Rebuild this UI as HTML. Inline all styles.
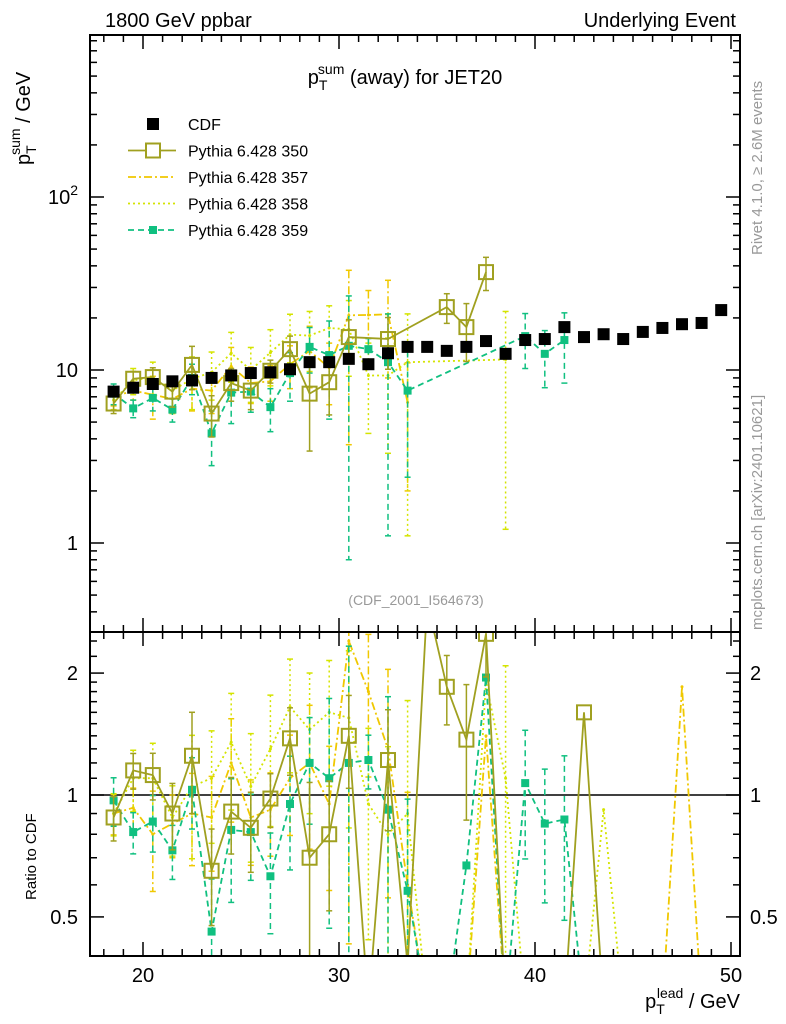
<!DOCTYPE html>
<html><head><meta charset="utf-8"><style>
html,body{margin:0;padding:0;background:#fff;font-family:"Liberation Sans",sans-serif;overflow:hidden;width:786px;height:1024px}
svg{display:block}
svg text{font-family:"Liberation Sans",sans-serif}
</style></head><body>
<svg id="c" width="786" height="1024" xmlns="http://www.w3.org/2000/svg">
<defs>
<clipPath id="cm"><rect x="90" y="35" width="650" height="597"/></clipPath>
<clipPath id="cr"><rect x="90" y="632" width="650" height="324"/></clipPath>
</defs>
<text x="105" y="27" font-size="20">1800 GeV ppbar</text>
<text x="736" y="27" font-size="20" text-anchor="end">Underlying Event</text>
<text x="405" y="84" font-size="20" text-anchor="middle">p<tspan font-size="14" dy="6">T</tspan><tspan font-size="14" dx="-8" dy="-16">sum</tspan><tspan dy="10"> (away) for JET20</tspan></text>
<text x="416" y="605" font-size="14" fill="#999" text-anchor="middle">(CDF_2001_I564673)</text>
<text transform="translate(762,255) rotate(-90)" font-size="15" fill="#999">Rivet 4.1.0, ≥ 2.6M events</text>
<text transform="translate(762,630) rotate(-90)" font-size="15" fill="#999">mcplots.cern.ch [arXiv:2401.10621]</text>
<text transform="translate(30,165) rotate(-90)" font-size="20">p<tspan font-size="14" dy="6">T</tspan><tspan font-size="14" dx="-8" dy="-16">sum</tspan><tspan dy="10"> / GeV</tspan></text>
<text transform="translate(36,900) rotate(-90)" font-size="15">Ratio to CDF</text>
<text x="740" y="1008" font-size="20" text-anchor="end">p<tspan font-size="14" dy="6">T</tspan><tspan font-size="14" dx="-8" dy="-16">lead</tspan><tspan dy="10"> / GeV</tspan></text>
<g id="axes"></g>
<g id="mainMarks" clip-path="url(#cm)"></g>
<g id="ratioMarks" clip-path="url(#cr)"></g>
<g id="legend"></g>
<rect x="90" y="35" width="650" height="597" fill="none" stroke="#000" stroke-width="2"/>
<rect x="90" y="632" width="650" height="324" fill="none" stroke="#000" stroke-width="2"/>
</svg>
<script>
const xBins=[18.5,19.5,20.5,21.5,22.5,23.5,24.5,25.5,26.5,27.5,28.5,29.5,30.5,31.5,32.5,33.5,34.5,35.5,36.5,37.5,38.5,39.5,40.5,41.5,42.5,43.5,44.5,45.5,46.5,47.5,48.5,49.5];
const cdfVals=[7.5,7.9,8.3,8.6,8.7,9.0,9.3,9.6,9.7,10.1,11.1,11.1,11.6,10.8,12.5,13.6,13.6,12.9,13.6,14.7,12.4,14.9,15.1,17.7,15.5,16.1,15.1,16.6,17.5,18.4,18.7,22.2];
const p350Vals=[6.4,8.9,9.1,7.5,10.7,5.6,8.4,7.6,9.9,13.2,7.3,8.5,15.5,null,15.1,null,null,23.1,17.7,36.8,null,null,null,null,null,null,null,null,null,null,null,null];
const p350Err=[0.8,0.9,1.2,1.4,3,1.5,1.8,1.7,1.5,2.5,3.9,3,4,null,5,null,null,4.5,6.5,8,null,null,null,null,null,null,null,null,null,null,null,null];
const p357Vals=[7.0,7.6,7.2,6.8,7.8,7.6,10.5,8.4,8.6,10.8,12.9,10.3,20.7,20.8,21,6.5,null,null,null,null,null,null,null,null,null,null,null,null,null,null,null,null];
const p357Err=[0.8,0.9,2,1.2,2,2,3,2,2,3,5,4,17,8,12,4.5,null,null,null,null,null,null,null,null,null,null,null,null,null,null,null,null];
const p358Vals=[6.7,8.7,9.1,7.6,8.9,9.7,12.5,10,12.6,16,15.8,17.5,17.2,9.3,9.3,11.1,null,null,null,null,11.5,null,null,null,null,null,null,null,null,null,null,null];
const p358Err=[0.8,1.5,2,1.5,3,3,4,3.5,4.5,5,6,6,8,5,6,10,null,null,null,null,10.3,null,null,null,null,null,null,null,null,null,null,null];
const p359Vals=[7.3,6.0,6.9,5.9,9.0,4.3,7.4,7.5,6.1,9.6,13.6,12.2,13.8,13.2,11.1,7.6,null,null,null,null,null,15.7,12.4,14.9,null,null,null,null,null,null,null,null];
const p359Err=[1,0.7,1.1,0.9,1.8,1.5,2.5,1.8,1.7,3,4,7,13,2,10,5.2,null,null,null,null,null,5.5,4.5,6.5,null,null,null,null,null,null,null,null];
const r350=[0.88,1.15,1.12,0.9,1.25,0.65,0.91,0.83,0.98,1.38,0.7,0.8,1.4,0.3,1.22,0.38,3,1.85,1.37,2.5,0.3,null,null,0.3,1.6,0.3,null,null,null,null,null,null];
const r357=[0.9,0.93,0.8,0.85,0.9,0.88,1.2,0.88,0.92,1.1,1.2,0.95,2.4,1.8,1.3,0.6,0.3,null,0.3,1.4,0.3,null,null,null,null,null,null,null,0.3,1.85,0.3,null];
const r358=[0.9,1.1,1.1,0.88,1.05,1.1,1.35,1.05,1.3,1.65,1.45,1.6,1.55,0.95,0.8,0.9,0.3,null,0.3,1.9,1.1,0.3,null,null,0.3,0.92,0.3,null,null,null,null,null];
const r359=[0.97,0.81,0.86,0.73,1.03,0.46,0.82,0.81,0.63,0.95,1.2,1.1,1.2,1.22,0.92,0.58,0.3,0.3,0.67,1.95,0.3,1.07,0.85,0.87,0.3,null,null,null,null,null,null,null];
const xTicks=[20,30,40,50];
const mainTicks=[1,10,100];
const ratioTicks=[0.5,1,2];

const NS='http://www.w3.org/2000/svg';
const X=v=>143+(v-20)*19.6;
const YM=v=>370-173*Math.log10(v/10);
const YR=v=>795-405*Math.log10(v);
function el(t,a,p){const e=document.createElementNS(NS,t);for(const k in a)e.setAttribute(k,a[k]);p.appendChild(e);return e;}
const ax=document.getElementById('axes');
for(let v=18;v<=50;v++){const big=v%10===0;
 for(const [yb,dir] of [[632,-1],[956,-1],[35,1],[632,1]]){
  el('line',{x1:X(v),x2:X(v),y1:yb,y2:yb+dir*(big?14:7),stroke:'#000','stroke-width':1.5},ax);
 }}
xTicks.forEach(v=>{const t=el('text',{x:X(v),y:982,'font-size':20,'text-anchor':'middle'},ax);t.textContent=v;

});
for(let d=0.1;d<=1000;d*=10){for(let m=1;m<10;m++){const v=d*m;const y=YM(v);if(y<35||y>632)continue;
 const len=m===1?14:7;
 el('line',{x1:90,x2:90+len,y1:y,y2:y,stroke:'#000','stroke-width':1.5},ax);
 el('line',{x1:740,x2:740-len,y1:y,y2:y,stroke:'#000','stroke-width':1.5},ax);}}
mainTicks.forEach(v=>{const t=el('text',{x:78,y:YM(v)+7,'font-size':20,'text-anchor':'end'},ax);
 if(v===100){t.innerHTML='10<tspan font-size="14" dy="-9">2</tspan>';}else t.textContent=v;
 
 });
[0.4,0.5,0.6,0.7,0.8,0.9,1,1.1,1.2,1.3,1.4,1.5,1.6,1.7,1.8,1.9,2,2.2,2.4].forEach(v=>{const y=YR(v);const len=ratioTicks.includes(v)?14:7;
 el('line',{x1:90,x2:90+len,y1:y,y2:y,stroke:'#000','stroke-width':1.5},ax);
 el('line',{x1:740,x2:740-len,y1:y,y2:y,stroke:'#000','stroke-width':1.5},ax);});
ratioTicks.forEach(v=>{for(const [x,a] of [[78,'end'],[750,'start']]){const t=el('text',{x:x,y:YR(v)+7,'font-size':20,'text-anchor':a},ax);t.textContent=v;
 
 }});
el('line',{x1:90,x2:740,y1:YR(1),y2:YR(1),stroke:'#000','stroke-width':1.5},ax);

const mm=document.getElementById('mainMarks'), rm=document.getElementById('ratioMarks');
const series=[
 {name:'p357',col:'#f0c800',dash:'8,3,2,3',vals:p357Vals,err:p357Err,r:r357,mk:'dot'},
 {name:'p358',col:'#d4e400',dash:'2,3',vals:p358Vals,err:p358Err,r:r358,mk:'dot'},
 {name:'p359',col:'#10c080',dash:'6,4',vals:p359Vals,err:p359Err,r:r359,mk:'fill'},
 {name:'p350',col:'#a0a020',dash:'',vals:p350Vals,err:p350Err,r:r350,mk:'open'}];
function drawSeries(s,vals,err,Y,g,tag,yMin,yMax){
 const cl=y=>Math.max(yMin,Math.min(yMax,y));
 let pts=[];
 vals.forEach((v,i)=>{if(v!==null)pts.push(X(xBins[i]).toFixed(1)+','+Y(v).toFixed(1));});
 const pl=el('polyline',{points:pts.join(' '),fill:'none',stroke:s.col,'stroke-width':1.8,'stroke-dasharray':s.dash},g);
 
 
 vals.forEach((v,i)=>{if(v===null)return;const x=X(xBins[i]);const y=Y(v);
  if(err&&err[i]){const e=err[i];const lo=Math.max(v-e,0.01);
   const yt=cl(Y(v+e)), yb=cl(Y(lo));
   const b=el('line',{x1:x,x2:x,y1:yt,y2:yb,stroke:s.col,'stroke-width':1.5,'stroke-dasharray':s.dash},g);
   
   
   el('line',{x1:x-3,x2:x+3,y1:yt,y2:yt,stroke:s.col,'stroke-width':1.5},g);
   el('line',{x1:x-3,x2:x+3,y1:yb,y2:yb,stroke:s.col,'stroke-width':1.5},g);}
  let m;
  if(s.mk==='open')m=el('rect',{x:x-7,y:y-7,width:14,height:14,fill:'none',stroke:s.col,'stroke-width':2},g);
  else if(s.mk==='fill')m=el('rect',{x:x-4,y:y-4,width:8,height:8,fill:s.col},g);
  else m=el('circle',{cx:x,cy:y,r:1.5,fill:s.col},g);
  
  });
}
series.forEach(s=>{
 drawSeries(s,s.vals,s.err,YM,mm,'main',30,640);
 const rErr=s.r.map((r,i)=>(r!==null&&s.vals[i]!==null&&s.err[i]!==null&&r>0.35)?r*s.err[i]/s.vals[i]:null);
 drawSeries(s,s.r,rErr,YR,rm,'ratio',628,962);});
cdfVals.forEach((v,i)=>{const x=X(xBins[i]);const y=YM(v);
 const r=el('rect',{x:x-6,y:y-6,width:12,height:12,fill:'#000'},mm);
 
 });
const lg=document.getElementById('legend');
const entries=[['CDF',null],['Pythia 6.428 350',series[3]],['Pythia 6.428 357',series[0]],['Pythia 6.428 358',series[1]],['Pythia 6.428 359',series[2]]];
entries.forEach((en,i)=>{const y=124+i*26.5;const g=el('g',{},lg);
 
 
 const s=en[1];
 if(!s){el('rect',{x:147,y:y-6,width:12,height:12,fill:'#000'},g);}
 else{el('line',{x1:128,x2:176,y1:y,y2:y,stroke:s.col,'stroke-width':1.8,'stroke-dasharray':s.dash},g);
  if(s.mk==='open')el('rect',{x:146,y:y-7,width:14,height:14,fill:'#fff',stroke:s.col,'stroke-width':2},g);
  else if(s.mk==='fill')el('rect',{x:149,y:y-4,width:8,height:8,fill:s.col},g);}
 const t=el('text',{x:188,y:y+6,'font-size':16},g);t.textContent=en[0];});
</script>
</body></html>
